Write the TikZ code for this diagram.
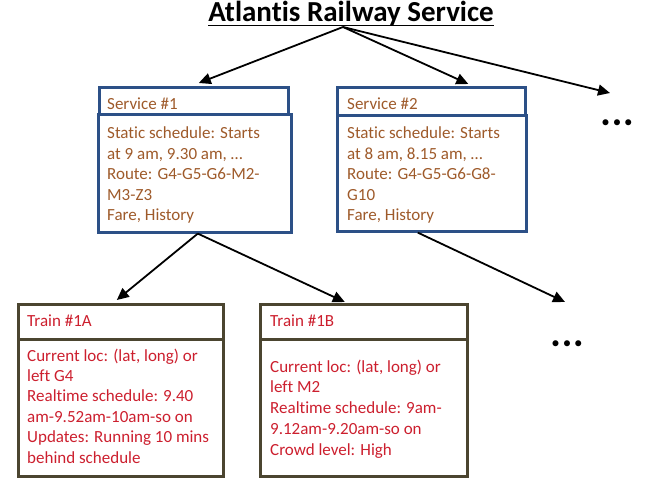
\documentclass[tikz,border=0pt]{standalone}
\usepackage{fontspec}
\setmainfont{Carlito}[Ligatures=CommonOff,Contextuals=AlternateOff,RawFeature={-liga;-calt;-clig}]
\usetikzlibrary{arrows.meta,positioning,calc}
\definecolor{servblue}{HTML}{2C5087}
\definecolor{servtext}{HTML}{9E5A2A}
\definecolor{trainline}{HTML}{4B4530}
\definecolor{traintext}{HTML}{CC1F2E}

\begin{document}
\begin{tikzpicture}[x=1pt,y=-1pt,link/.style={line width=1.8pt,-{Triangle[length=12pt,width=11pt]}},servbox/.style={draw=servblue,line width=2.6pt,anchor=north west,inner sep=0pt},trainbox/.style={draw=trainline,line width=2.6pt,anchor=north west,inner sep=0pt},boxtext/.style={anchor=base west,align=left,inner sep=0pt,font=\fontsize{17}{20.4}\selectfont}]
\useasboundingbox (0,0) rectangle (651,478);
\begin{scope}
\node[font=\fontsize{29}{33}\selectfont\bfseries,inner sep=0pt,anchor=base] (title) at (351,22) {Atlantis Railway Service};
\draw[line width=1.6pt] ([yshift=-3.5pt]title.base west) -- ([yshift=-3.5pt]title.base east);
\coordinate (hub) at (343,27);
\end{scope}
% services (text nodes anchored on the baseline of their last line)
\begin{scope}
\node[servbox,minimum width=189pt,minimum height=27pt] (s1head) at (98,86) {};
\node[servbox,minimum width=193pt,minimum height=118pt] (s1body) at (97,113) {};
\node[boxtext,text=servtext] (s1name) at (107,110) {Service \#1};
\node[boxtext,text=servtext] (s1info) at (107,220.6) {Static schedule: Starts\\at 9 am, 9.30 am, \dots\\Route: G4-G5-G6-M2-\\M3-Z3\\Fare, History};
\node[servbox,minimum width=188pt,minimum height=28pt] (s2head) at (336,86) {};
\node[servbox,minimum width=189pt,minimum height=116pt] (s2body) at (336,114) {};
\node[boxtext,text=servtext] (s2name) at (347,110) {Service \#2};
\node[boxtext,text=servtext] (s2info) at (347,220.6) {Static schedule: Starts\\at 8 am, 8.15 am, \dots\\Route: G4-G5-G6-G8-\\G10\\Fare, History};
\end{scope}
% trains
\begin{scope}
\node[trainbox,minimum width=205pt,minimum height=35pt] (t1ahead) at (17,303) {};
\node[trainbox,minimum width=205pt,minimum height=137pt] (t1abody) at (17,338) {};
\node[boxtext,text=traintext] (t1aname) at (27,327) {Train \#1A};
\node[boxtext,text=traintext] (t1ainfo) at (27,463) {Current loc: (lat, long) or\\left G4\\Realtime schedule: 9.40\\am-9.52am-10am-so on\\Updates: Running 10 mins\\behind schedule};
\node[trainbox,minimum width=207pt,minimum height=35pt] (t1bhead) at (259,303) {};
\node[trainbox,minimum width=207pt,minimum height=137pt] (t1bbody) at (259,338) {};
\node[boxtext,text=traintext] (t1bname) at (270,327) {Train \#1B};
\node[boxtext,text=traintext,font=\fontsize{17}{20.75}\selectfont] (t1binfo) at (270,455) {Current loc: (lat, long) or\\left M2\\Realtime schedule: 9am-\\9.12am-9.20am-so on\\Crowd level: High};
\end{scope}
\node[font=\fontsize{17}{20}\selectfont] (more1) at (617,124) {\textbullet\hspace{3pt}\textbullet\hspace{3pt}\textbullet};
\node[font=\fontsize{17}{20}\selectfont] (more2) at (567,345) {\textbullet\hspace{3pt}\textbullet\hspace{3pt}\textbullet};
\coordinate (end1) at (610,93);
\coordinate (end2) at (565,302);
% arrows
\draw[link] (hub) -- ([xshift=5pt,yshift=3pt]s1head.north);
\draw[link] (hub) -- ([xshift=37pt,yshift=2pt]s2head.north);
\draw[link] (hub) -- (end1);
\draw[link] ([xshift=3pt]s1body.south) -- ([xshift=-4pt,yshift=3pt]t1ahead.north);
\draw[link] ([xshift=3pt]s1body.south) -- ([xshift=-19pt,yshift=1pt]t1bhead.north);
\draw[link] ([xshift=-14pt]s2body.south) -- (end2);
\end{tikzpicture}
\end{document}
